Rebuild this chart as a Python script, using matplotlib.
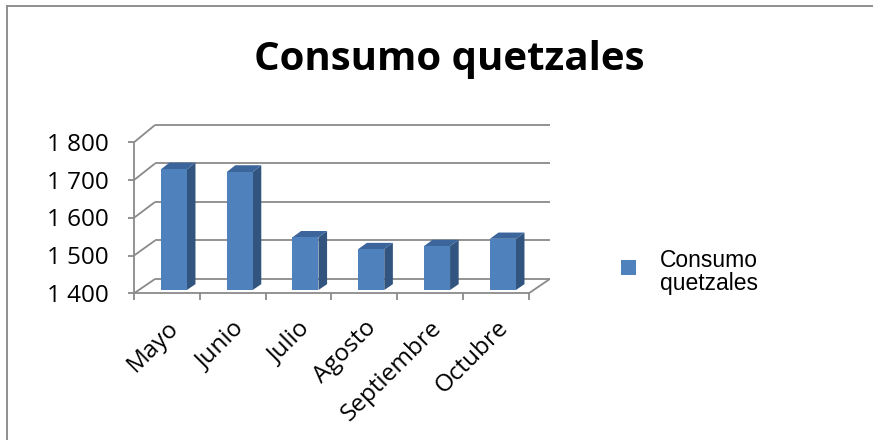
import matplotlib
matplotlib.use("Agg")
import matplotlib.pyplot as plt
from matplotlib.patches import Polygon, Rectangle
from matplotlib.lines import Line2D

# ---- data ----
months = ["Mayo", "Junio", "Julio", "Agosto", "Septiembre", "Octubre"]
consumo = [1718, 1711, 1539, 1508, 1516, 1535]
y_ticks = [1400, 1500, 1600, 1700, 1800]
y_tick_labels = ["1 400", "1 500", "1 600", "1 700", "1 800"]
series_name = "Consumo\nquetzales"
title = "Consumo quetzales"

# ---- canvas ----
W, H = 873, 440
fig = plt.figure(figsize=(W / 100, H / 100), dpi=100)
ax = fig.add_axes([0, 0, 1, 1])

# layout of the pseudo-3D plot area (pixels)
x0_px, cat_px = 134.0, 65.8      # left of front axis, width of one category
v0_px, val_px = 293.3, 0.3775    # row of the 1400 baseline, pixels per value unit
vmin = y_ticks[0]
ax.set_xlim(-x0_px / cat_px, (W - x0_px) / cat_px)
ax.set_ylim(vmin - (H - v0_px) / val_px, vmin + v0_px / val_px)
ax.axis("off")

DEPTH_X = 21.0 / cat_px
vspan = y_ticks[-1] - y_ticks[0]


def depth_y(v):
    return (14.3 + 3.0 * (v - vmin) / vspan) / val_px


def proj(x, v, d):
    """Oblique projection of (category x, value v, depth d in 0..1)."""
    return (x + d * DEPTH_X, v + d * depth_y(v))


grid_kw = dict(color="#8a8a8a", lw=1.3, solid_capstyle="butt", zorder=1)
n = len(months)

# back wall and left wall gridlines
for v in y_ticks:
    a, b = proj(0, v, 1), proj(n, v, 1)
    ax.plot([a[0], b[0]], [a[1], b[1]], **grid_kw)
    c = proj(0, v, 0)
    ax.plot([c[0], a[0]], [c[1], a[1]], **grid_kw)
    # value axis tick
    ax.plot([-6 / cat_px, 0], [v, v], **grid_kw)

# front value axis
ax.plot([0, 0], [y_ticks[0], y_ticks[-1]], **grid_kw)

# floor edges
ax.plot([0, n], [vmin, vmin], **grid_kw)
a, b = proj(n, vmin, 0), proj(n, vmin, 1)
ax.plot([a[0], b[0]], [a[1], b[1]], **grid_kw)

# category ticks
for i in range(n + 1):
    ax.plot([i, i], [vmin, vmin - 7 / val_px], **grid_kw)

# columns
FRONT, SIDE, TOP = "#4F81BD", "#31557F", "#3C659B"
xl_off, xr_off = 0.335, 0.73
d0, d1 = 0.23, 0.64
for i, v in enumerate(consumo):
    xl, xr = i + xl_off, i + xr_off
    front = [proj(xl, vmin, d0), proj(xr, vmin, d0), proj(xr, v, d0), proj(xl, v, d0)]
    side = [proj(xr, vmin, d0), proj(xr, vmin, d1), proj(xr, v, d1), proj(xr, v, d0)]
    top = [proj(xl, v, d0), proj(xr, v, d0), proj(xr, v, d1), proj(xl, v, d1)]
    ax.add_patch(Polygon(side, closed=True, fc=SIDE, ec="none", zorder=3))
    ax.add_patch(Polygon(top, closed=True, fc=TOP, ec="none", zorder=3))
    ax.add_patch(Polygon(front, closed=True, fc=FRONT, ec="none", zorder=4))

# value labels
label_font = ["Open Sans", "DejaVu Sans"]
for v, lab in zip(y_ticks, y_tick_labels):
    ax.text(-(x0_px - 108.5) / cat_px, v - 2.5 / val_px, lab, ha="right", va="center",
            fontsize=17.5, family=label_font, color="black")

# category labels
for i, m in enumerate(months):
    ax.text(i + 0.50, vmin - 23 / val_px, m, ha="right", va="top",
            rotation=45, rotation_mode="anchor",
            fontsize=17.5, family=label_font, color="black")

# title
fig.text(449 / W, 1 - 70 / H, title, ha="center", va="baseline",
         fontsize=29, fontweight="bold", family=label_font)

# legend
fig.add_artist(Rectangle((621 / W, 1 - 275 / H), 15 / W, 15 / H,
                         transform=fig.transFigure, fc=FRONT, ec="none"))
fig.text(660 / W, 1 - 272 / H, series_name, ha="left", va="center",
         fontsize=16.5, family=["Liberation Sans", "DejaVu Sans"],
         linespacing=1.0)

# chart frame (left and top edges)
frame_kw = dict(color="#8e8e8e", lw=1.4, transform=fig.transFigure)
fig.add_artist(Line2D([7 / W, 7 / W], [0, 1 - 6 / H], **frame_kw))
fig.add_artist(Line2D([7 / W, 1], [1 - 6 / H, 1 - 6 / H], **frame_kw))

fig.savefig("out.png", dpi=100)
